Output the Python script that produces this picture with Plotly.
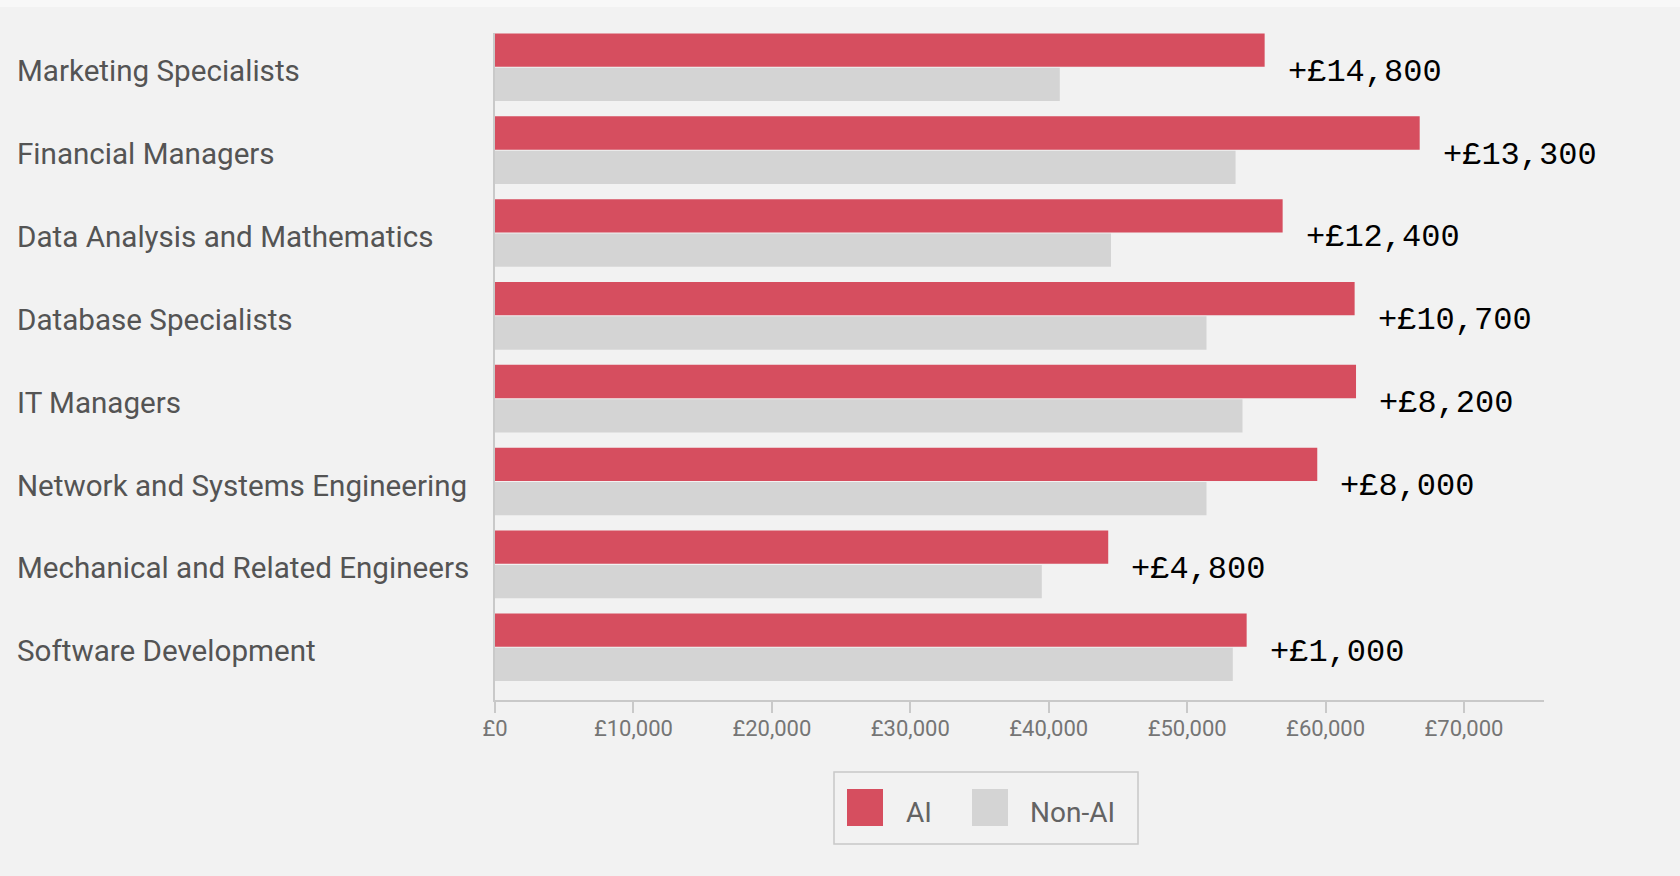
import plotly.graph_objects as go

# Job categories, listed bottom to top as drawn on the y axis
categories = [
    "Software Development",
    "Mechanical and Related Engineers",
    "Network and Systems Engineering",
    "IT Managers",
    "Database Specialists",
    "Data Analysis and Mathematics",
    "Financial Managers",
    "Marketing Specialists",
]
# Average salaries (GBP)
non_ai_salary = [53300, 39500, 51400, 54000, 51400, 44500, 53500, 40800]
ai_salary = [54300, 44300, 59400, 62200, 62100, 56900, 66800, 55600]
# Salary premium labels
premium_labels = ["+£1,000", "+£4,800", "+£8,000", "+£8,200",
                  "+£10,700", "+£12,400", "+£13,300", "+£14,800"]
x_ticks = [0, 10000, 20000, 30000, 40000, 50000, 60000, 70000]
x_tick_labels = ["£0", "£10,000", "£20,000", "£30,000",
                 "£40,000", "£50,000", "£60,000", "£70,000"]

RED = "#D64E5F"
GREY = "#D4D4D4"
BG = "#F2F2F2"
AXIS = "#C9C9C9"

W, H = 1680, 876
L, R, T, B = 495, 136, 33, 176
PW, PH = W - L - R, H - T - B


def px_x(px):
    return (px - L) / PW


def px_y(py):
    return (H - B - py) / PH


fig = go.Figure()
fig.add_trace(go.Bar(
    y=categories, x=non_ai_salary, orientation="h", name="Non-AI",
    marker=dict(color=GREY, line=dict(width=0)), showlegend=False,
))
fig.add_trace(go.Bar(
    y=categories, x=ai_salary, orientation="h", name="AI",
    marker=dict(color=RED, line=dict(width=0)), showlegend=False,
))

annotations = []
for cat in categories:
    annotations.append(dict(
        xref="paper", yref="y", x=px_x(15), y=cat, text=cat,
        xanchor="left", yanchor="middle", showarrow=False, yshift=-4,
        font=dict(family="Roboto", size=29.6, color="#545454"),
    ))
for cat, val, lab in zip(categories, ai_salary, premium_labels):
    annotations.append(dict(
        xref="x", yref="y", x=val, y=cat, text=lab,
        xanchor="left", yanchor="middle", showarrow=False,
        xshift=21, yshift=-5,
        font=dict(family="Liberation Mono", size=32, color="#000000"),
    ))

# Legend: framed box with two square swatches
shapes = [
    dict(type="rect", xref="paper", yref="paper", layer="below",
         x0=px_x(0), x1=px_x(W), y0=px_y(0), y1=px_y(7),
         fillcolor="#F8F8F8", line=dict(width=0)),
    dict(type="rect", xref="paper", yref="paper",
         x0=px_x(834), x1=px_x(1138), y0=px_y(772), y1=px_y(844),
         fillcolor=BG, line=dict(color="#C8C8C8", width=1.5)),
    dict(type="rect", xref="paper", yref="paper",
         x0=px_x(847), x1=px_x(883), y0=px_y(789), y1=px_y(826),
         fillcolor=RED, line=dict(width=0)),
    dict(type="rect", xref="paper", yref="paper",
         x0=px_x(972), x1=px_x(1008), y0=px_y(789), y1=px_y(826),
         fillcolor=GREY, line=dict(width=0)),
]
for txt, xpx in [("AI", 904), ("Non-AI", 1028)]:
    annotations.append(dict(
        xref="paper", yref="paper", x=px_x(xpx), y=px_y(812), text=txt,
        xanchor="left", yanchor="middle", showarrow=False,
        font=dict(family="Roboto", size=28, color="#636363"),
    ))

fig.update_layout(
    width=W, height=H, autosize=False,
    margin=dict(l=L, r=R, t=T, b=B, pad=0),
    paper_bgcolor=BG, plot_bgcolor=BG,
    barmode="group", bargap=0.171, bargroupgap=0.03,
    annotations=annotations, shapes=shapes,
    showlegend=False,
    xaxis=dict(
        range=[0, 75780], tickmode="array",
        tickvals=x_ticks, ticktext=x_tick_labels,
        showgrid=False, zeroline=False,
        showline=True, linecolor=AXIS, linewidth=2,
        ticks="outside", ticklen=11, tickwidth=1.5, tickcolor=AXIS,
        ticklabelstandoff=-3,
        tickfont=dict(family="Roboto", size=22, color="#757575"),
    ),
    yaxis=dict(
        type="category", categoryorder="array", categoryarray=categories,
        range=[-0.637, 7.414], showticklabels=False,
        showgrid=False, zeroline=False,
        showline=True, linecolor=AXIS, linewidth=2, ticks="",
    ),
)

fig.write_html("out.html")
